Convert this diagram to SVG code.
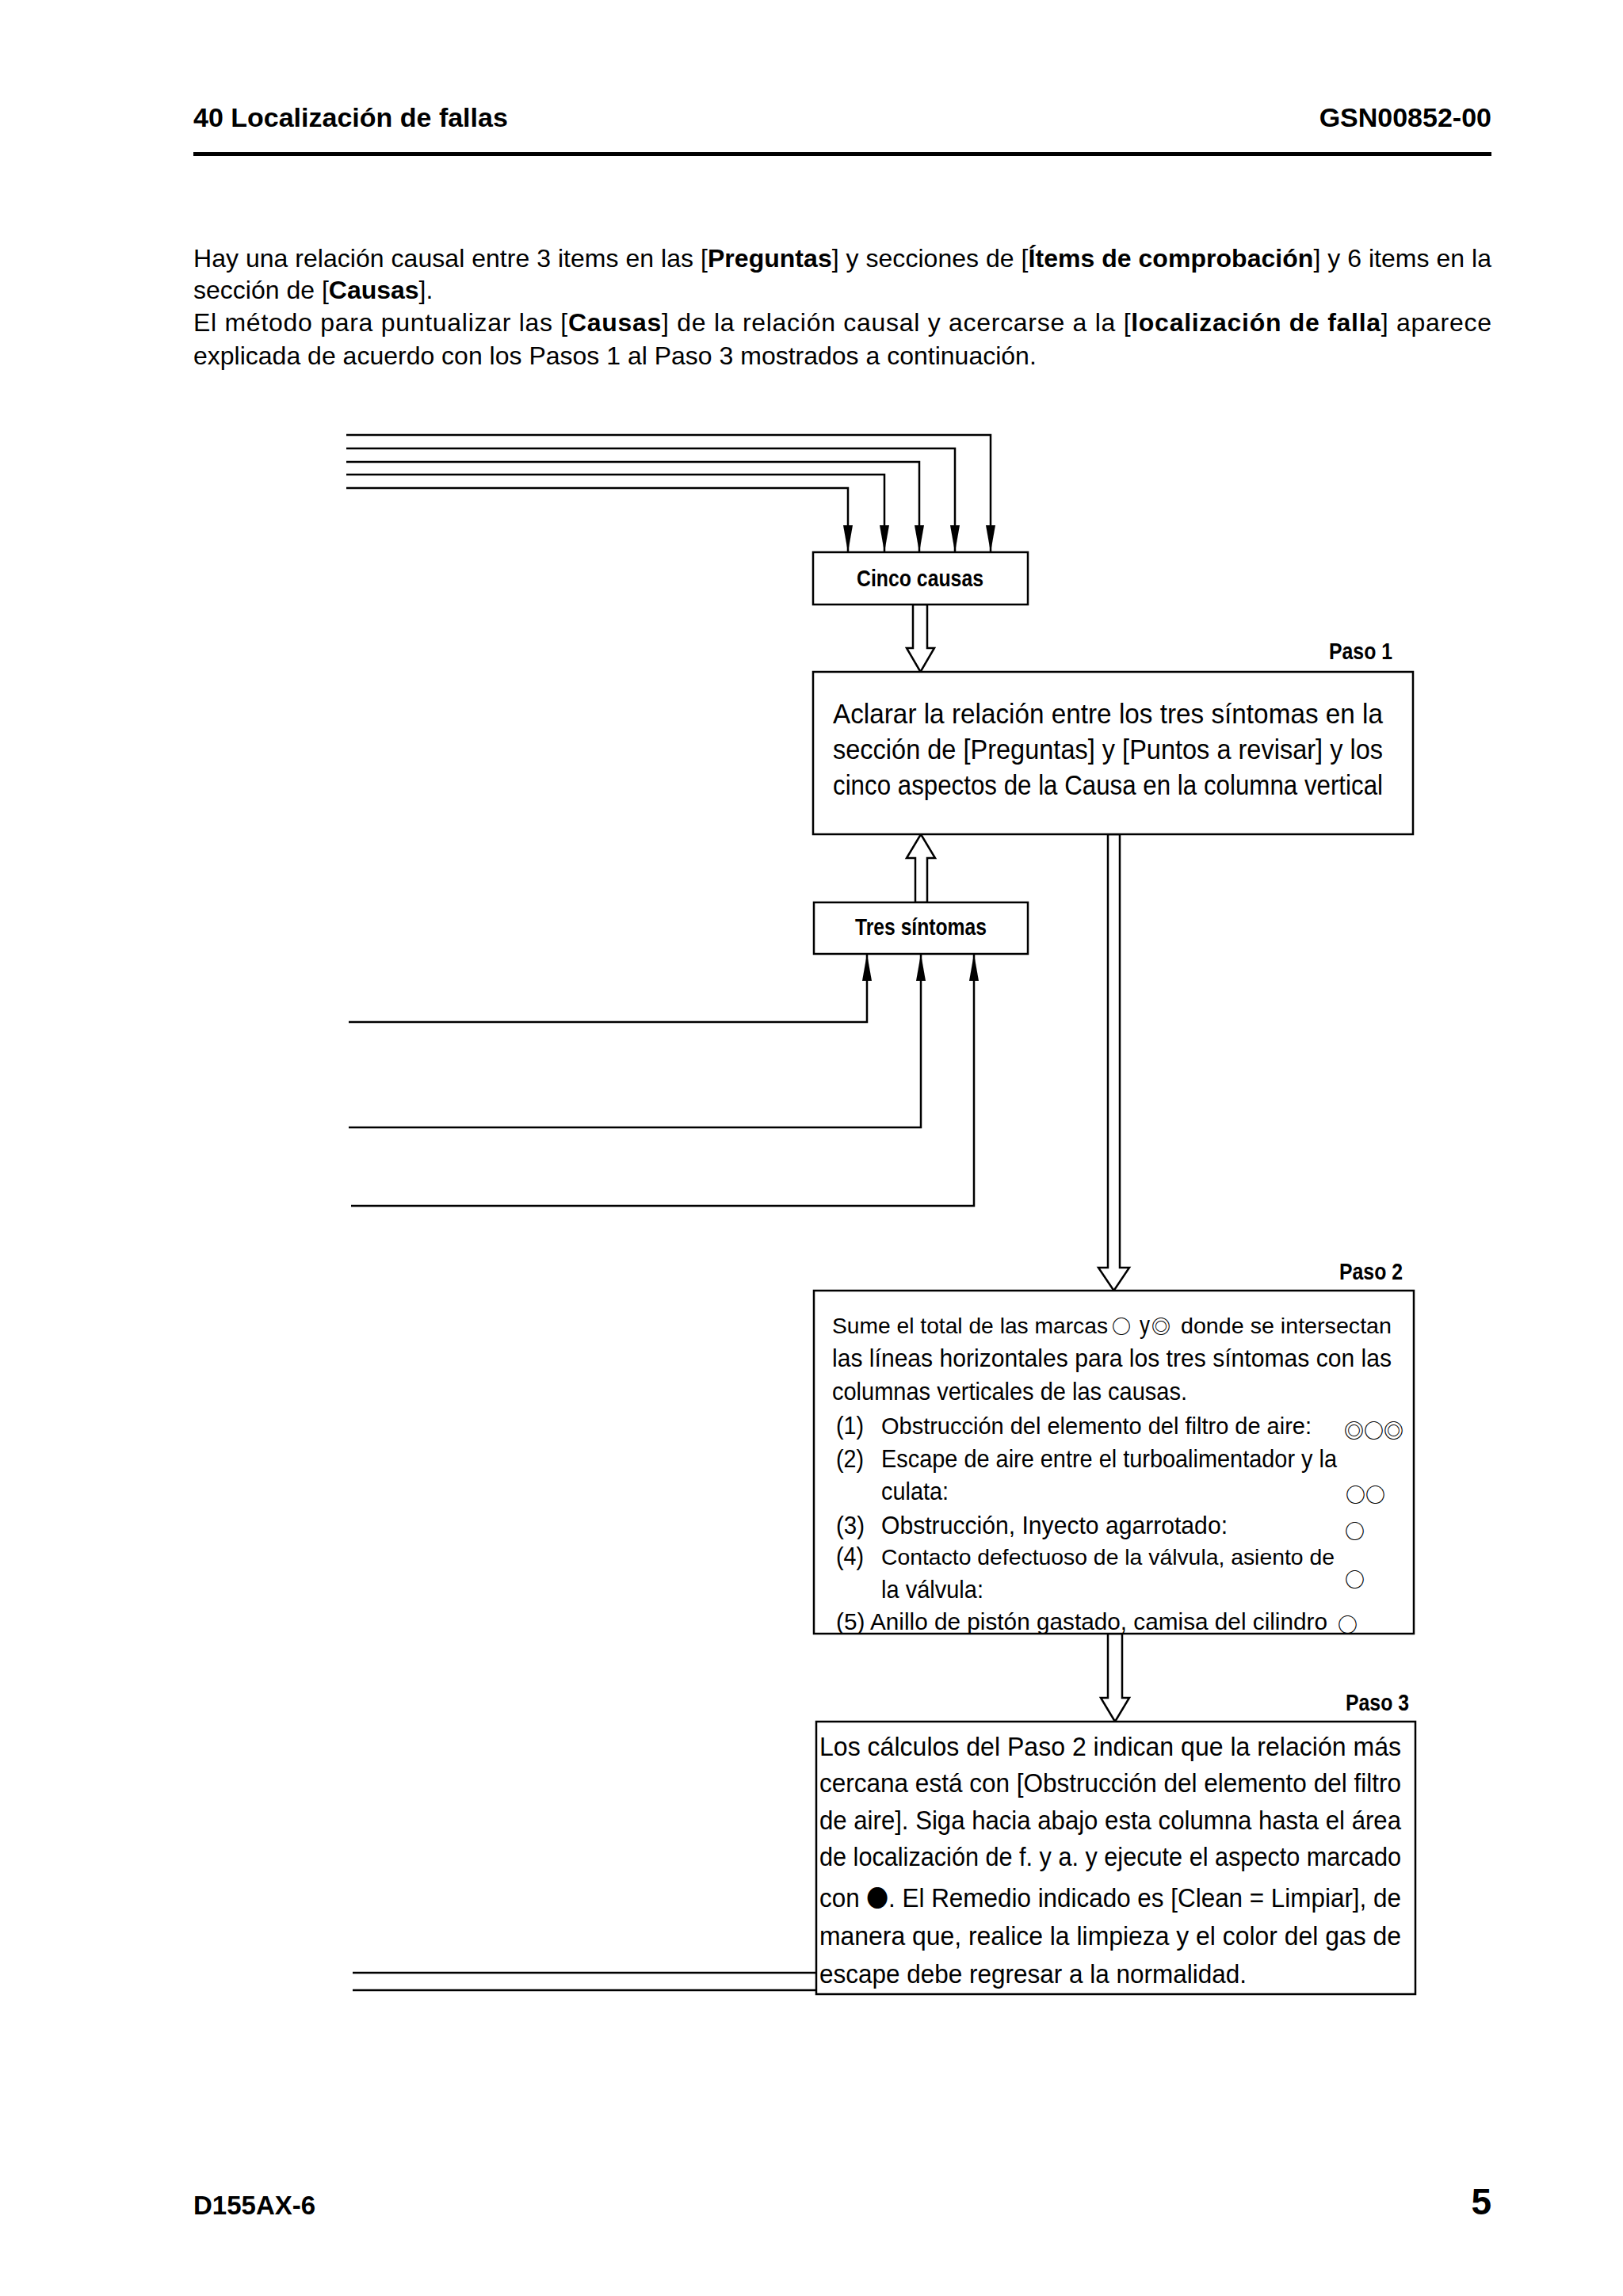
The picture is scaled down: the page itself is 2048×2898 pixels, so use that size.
<svg xmlns="http://www.w3.org/2000/svg" width="2048" height="2898" viewBox="0 0 2048 2898">
<style>
text{font-family:"Liberation Sans",Arial,"DejaVu Sans",sans-serif;fill:#000}
.hdr{font-size:34px;font-weight:bold}
.p{font-size:32px}
.b{font-weight:bold}
.lbl{font-size:30px;font-weight:bold}
.paso{font-size:29px;font-weight:bold}
.t1{font-size:35px}
.t2{font-size:31.5px}
.t3{font-size:34px}
.sym{font-family:"Noto Sans CJK JP","DejaVu Sans",sans-serif;font-weight:bold}
.mk{font-family:"Noto Sans CJK JP","DejaVu Sans",sans-serif;font-size:25px;font-weight:bold}
.box{fill:#fff;stroke:#000;stroke-width:2.5}
.ln{fill:none;stroke:#000;stroke-width:2.5}
.hol{fill:#fff;stroke:#000;stroke-width:2.5;stroke-linejoin:miter}
</style>
<defs>
<marker id="ah" viewBox="0 0 34 12" refX="34" refY="6" markerWidth="34" markerHeight="12" markerUnits="userSpaceOnUse" orient="auto">
<path d="M0,0 L34,6 L0,12 z" fill="#000"/>
</marker>
</defs>
<rect width="2048" height="2898" fill="#fff"/>

<g id="header">
<text class="hdr" x="244" y="160">40 Localización de fallas</text>
<text class="hdr" x="1882" y="160" text-anchor="end">GSN00852-00</text>
<rect x="244" y="192" width="1638" height="5" fill="#000"/>
</g>

<g id="intro">
<text class="p" x="244" y="337" textLength="1638" lengthAdjust="spacing">Hay una relación causal entre 3 items en las [<tspan class="b">Preguntas</tspan>] y secciones de [<tspan class="b">Ítems de comprobación</tspan>] y 6 items en la</text>
<text class="p" x="244" y="377">sección de [<tspan class="b">Causas</tspan>].</text>
<text class="p" x="244" y="418" textLength="1638" lengthAdjust="spacing">El método para puntualizar las [<tspan class="b">Causas</tspan>] de la relación causal y acercarse a la [<tspan class="b">localización de falla</tspan>] aparece</text>
<text class="p" x="244" y="460">explicada de acuerdo con los Pasos 1 al Paso 3 mostrados a continuación.</text>
</g>

<g id="connectors">
<path class="ln" d="M437,549 H1250 V697" marker-end="url(#ah)"/>
<path class="ln" d="M437,566 H1205 V697" marker-end="url(#ah)"/>
<path class="ln" d="M437,583 H1160 V697" marker-end="url(#ah)"/>
<path class="ln" d="M437,599 H1116 V697" marker-end="url(#ah)"/>
<path class="ln" d="M437,616 H1070 V697" marker-end="url(#ah)"/>
<path class="ln" d="M440,1290 H1094 V1204" marker-end="url(#ah)"/>
<path class="ln" d="M440,1423 H1162 V1204" marker-end="url(#ah)"/>
<path class="ln" d="M443,1522 H1229 V1204" marker-end="url(#ah)"/>
<polygon class="hol" points="1152,763 1152,818 1144,818 1161.5,848 1179,818 1170,818 1170,763"/>
<polygon class="hol" points="1155,1139 1155,1083 1144,1083 1162,1053 1180,1083 1170,1083 1170,1139"/>
<polygon class="hol" points="1398,1053 1398,1600 1386,1600 1405.5,1629 1425,1600 1413,1600 1413,1053"/>
<polygon class="hol" points="1398,2062 1398,2143 1389,2143 1407,2173 1425,2143 1416,2143 1416,2062"/>
<path class="ln" d="M445,2490 H1030"/>
<path class="ln" d="M445,2512 H1030"/>
</g>

<g id="cinco-causas">
<rect class="box" x="1026" y="697" width="271" height="66"/>
<text class="lbl" x="1161" y="740" text-anchor="middle" textLength="160" lengthAdjust="spacingAndGlyphs">Cinco causas</text>
</g>

<g id="paso1">
<text class="paso" x="1757" y="832" text-anchor="end" textLength="80" lengthAdjust="spacingAndGlyphs">Paso 1</text>
<rect class="box" x="1026" y="848" width="757" height="205"/>
<text class="t1" x="1051" y="913" textLength="694" lengthAdjust="spacingAndGlyphs">Aclarar la relación entre los tres síntomas en la</text>
<text class="t1" x="1051" y="958" textLength="694" lengthAdjust="spacingAndGlyphs">sección de [Preguntas] y [Puntos a revisar] y los</text>
<text class="t1" x="1051" y="1003" textLength="694" lengthAdjust="spacingAndGlyphs">cinco aspectos de la Causa en la columna vertical</text>
</g>

<g id="tres-sintomas">
<rect class="box" x="1027" y="1139" width="270" height="65"/>
<text class="lbl" x="1162" y="1180" text-anchor="middle" textLength="166" lengthAdjust="spacingAndGlyphs">Tres síntomas</text>
</g>

<g id="paso2">
<text class="paso" x="1770" y="1615" text-anchor="end" textLength="80" lengthAdjust="spacingAndGlyphs">Paso 2</text>
<rect class="box" x="1027" y="1629" width="757" height="433"/>
<text x="1050" y="1683" style="font-size:28px" textLength="348" lengthAdjust="spacingAndGlyphs">Sume el total de las marcas</text>
<text class="sym" x="1403" y="1683" style="font-size:24px">○</text>
<text class="t2" x="1438" y="1683" textLength="13" lengthAdjust="spacingAndGlyphs">y</text>
<text class="sym" x="1453" y="1683" style="font-size:24px">◎</text>
<text x="1490" y="1683" style="font-size:28px" textLength="266" lengthAdjust="spacingAndGlyphs">donde se intersectan</text>
<text class="t2" x="1050" y="1725" textLength="706" lengthAdjust="spacingAndGlyphs">las líneas horizontales para los tres síntomas con las</text>
<text class="t2" x="1050" y="1767" textLength="448" lengthAdjust="spacingAndGlyphs">columnas verticales de las causas.</text>
<text class="t2" x="1055" y="1810" textLength="35" lengthAdjust="spacingAndGlyphs">(1)</text>
<text x="1112" y="1810" style="font-size:29px" textLength="543" lengthAdjust="spacingAndGlyphs">Obstrucción del elemento del filtro de aire:</text>
<text class="mk" x="1696" y="1815">◎○◎</text>
<text class="t2" x="1055" y="1852" textLength="35" lengthAdjust="spacingAndGlyphs">(2)</text>
<text class="t2" x="1112" y="1852" textLength="575" lengthAdjust="spacingAndGlyphs">Escape de aire entre el turboalimentador y la</text>
<text class="t2" x="1112" y="1893" textLength="85" lengthAdjust="spacingAndGlyphs">culata:</text>
<text class="mk" x="1698" y="1896">○○</text>
<text class="t2" x="1055" y="1936" textLength="36" lengthAdjust="spacingAndGlyphs">(3)</text>
<text class="t2" x="1112" y="1936" textLength="437" lengthAdjust="spacingAndGlyphs">Obstrucción, Inyecto agarrotado:</text>
<text class="mk" x="1697" y="1942">○</text>
<text class="t2" x="1055" y="1975" textLength="35" lengthAdjust="spacingAndGlyphs">(4)</text>
<text x="1112" y="1975" style="font-size:28.3px" textLength="572" lengthAdjust="spacingAndGlyphs">Contacto defectuoso de la válvula, asiento de</text>
<text class="mk" x="1697" y="2003">○</text>
<text class="t2" x="1112" y="2017" textLength="129" lengthAdjust="spacingAndGlyphs">la válvula:</text>
<text x="1055" y="2057" style="font-size:29.5px" textLength="620" lengthAdjust="spacingAndGlyphs">(5) Anillo de pistón gastado, camisa del cilindro</text>
<text class="mk" x="1688" y="2060">○</text>
</g>

<g id="paso3">
<text class="paso" x="1778" y="2159" text-anchor="end" textLength="80" lengthAdjust="spacingAndGlyphs">Paso 3</text>
<rect class="box" x="1030" y="2173" width="756" height="344"/>
<text class="t3" x="1034" y="2216" textLength="734" lengthAdjust="spacingAndGlyphs">Los cálculos del Paso 2 indican que la relación más</text>
<text class="t3" x="1034" y="2262" textLength="734" lengthAdjust="spacingAndGlyphs">cercana está con [Obstrucción del elemento del filtro</text>
<text class="t3" x="1034" y="2309" textLength="734" lengthAdjust="spacingAndGlyphs">de aire]. Siga hacia abajo esta columna hasta el área</text>
<text class="t3" x="1034" y="2355" textLength="734" lengthAdjust="spacingAndGlyphs">de localización de f. y a. y ejecute el aspecto marcado</text>
<text class="t3" x="1034" y="2407" textLength="734" lengthAdjust="spacingAndGlyphs">con <tspan class="sym" style="font-size:30px">●</tspan>. El Remedio indicado es [Clean = Limpiar], de</text>
<text class="t3" x="1034" y="2455" textLength="734" lengthAdjust="spacingAndGlyphs">manera que, realice la limpieza y el color del gas de</text>
<text class="t3" x="1034" y="2503" textLength="539" lengthAdjust="spacingAndGlyphs">escape debe regresar a la normalidad.</text>
</g>

<g id="footer">
<text class="hdr" x="244" y="2795" style="font-size:33px">D155AX-6</text>
<text class="hdr" x="1882" y="2795" text-anchor="end" style="font-size:46px">5</text>
</g>
</svg>
